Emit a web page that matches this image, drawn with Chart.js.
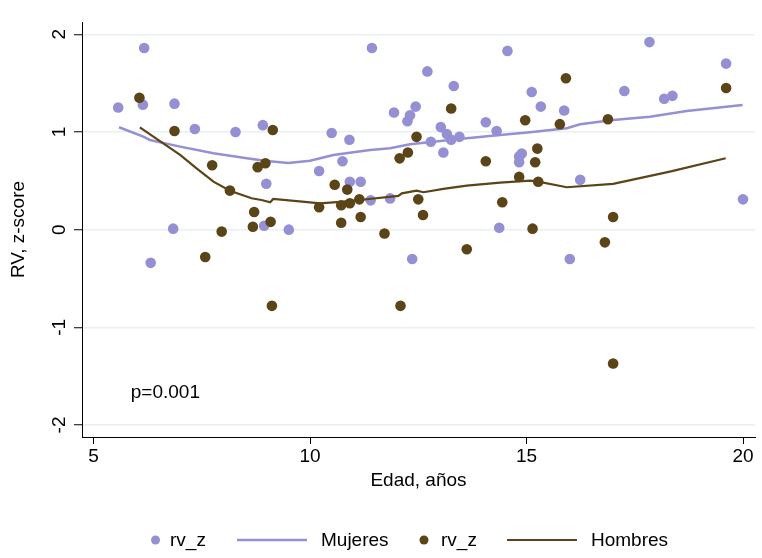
<!DOCTYPE html>
<html>
<head>
<meta charset="utf-8">
<script src="https://cdn.jsdelivr.net/npm/chart.js@4/dist/chart.umd.min.js"></script>
<style>
  html, body { margin: 0; padding: 0; background: #ffffff; }
  canvas { display: block; }
</style>
</head>
<body>
<canvas id="chart" width="762" height="558"></canvas>
<script>
// Girls: individual RV z-scores by age
const womenAge = [5.57, 6.17, 6.14, 6.87, 7.34, 8.28, 8.91, 8.99, 6.84, 8.94, 9.51, 6.32,
  11.43, 12.71, 13.32, 14.56, 15.12, 11.94, 12.44, 12.31, 12.25, 10.50, 10.91, 13.02,
  13.16, 13.26, 13.45, 12.79, 13.08, 14.06, 14.31, 14.89, 14.83, 14.83, 10.75, 10.21,
  10.92, 11.17, 11.40, 11.85, 14.37, 12.36, 17.84, 19.61, 17.26, 18.18, 18.37, 15.33,
  15.87, 16.24, 20.00, 16.00];
const womenRv = [1.25, 1.86, 1.28, 1.29, 1.03, 1.00, 1.07, 0.47, 0.01, 0.04, 0.00, -0.34,
  1.86, 1.62, 1.47, 1.83, 1.41, 1.20, 1.26, 1.17, 1.11, 0.99, 0.92, 1.05,
  0.98, 0.92, 0.95, 0.90, 0.79, 1.10, 1.01, 0.78, 0.75, 0.69, 0.70, 0.60,
  0.49, 0.49, 0.30, 0.32, 0.02, -0.30, 1.92, 1.70, 1.42, 1.34, 1.37, 1.26,
  1.22, 0.51, 0.31, -0.30];

// Boys: individual RV z-scores by age
const menAge = [6.06, 6.87, 9.14, 7.74, 8.79, 8.97, 8.15, 8.71, 8.68, 9.09, 7.96, 7.58,
  9.12, 13.26, 14.97, 12.46, 12.07, 12.26, 14.06, 14.83, 10.57, 10.86, 10.21, 10.72,
  10.92, 11.14, 11.17, 10.72, 12.50, 12.61, 14.44, 11.72, 15.14, 13.62, 12.09, 15.91,
  19.61, 15.77, 16.88, 15.25, 15.20, 15.27, 17.00, 16.81, 17.00];
const menRv = [1.35, 1.01, 1.02, 0.66, 0.64, 0.68, 0.40, 0.18, 0.03, 0.08, -0.02, -0.28,
  -0.78, 1.24, 1.12, 0.95, 0.73, 0.79, 0.70, 0.54, 0.46, 0.41, 0.23, 0.25,
  0.27, 0.31, 0.13, 0.07, 0.31, 0.15, 0.28, -0.04, 0.01, -0.20, -0.78, 1.55,
  1.45, 1.08, 1.13, 0.83, 0.69, 0.49, 0.13, -0.13, -1.37];

// Smoothed trend, girls
const womenFitAge = [5.59, 6.15, 6.30, 7.00, 7.77, 8.54, 9.00, 9.50, 10.00, 10.54, 10.92, 11.39,
  11.85, 12.31, 12.85, 13.62, 14.39, 15.08, 15.93, 16.24, 17.00, 17.85, 18.70, 19.99];
const womenFitRv = [1.048, 0.952, 0.918, 0.850, 0.782, 0.731, 0.703, 0.683, 0.705, 0.765, 0.788, 0.816,
  0.833, 0.874, 0.901, 0.935, 0.969, 0.997, 1.038, 1.079, 1.123, 1.157, 1.215, 1.276];

// Smoothed trend, boys
const menFitAge = [6.07, 6.61, 7.00, 7.38, 7.77, 8.15, 8.65, 8.88, 9.08, 9.15, 10.00, 10.23,
  10.77, 11.31, 12.04, 12.12, 12.46, 12.62, 13.08, 13.62, 14.39, 15.08, 15.27, 15.93,
  17.00, 18.31, 19.60];
const menFitRv = [1.048, 0.884, 0.765, 0.628, 0.491, 0.399, 0.321, 0.304, 0.280, 0.314, 0.280, 0.270,
  0.287, 0.311, 0.345, 0.372, 0.399, 0.383, 0.417, 0.451, 0.481, 0.502, 0.491, 0.434,
  0.468, 0.594, 0.731];

const xTicks = [5, 10, 15, 20];
const yTicks = [-2, -1, 0, 1, 2];
const seriesLabels = ['rv_z', 'Mujeres', 'rv_z', 'Hombres'];
const pValueText = 'p=0.001';

const PURPLE = '#958fd4';
const BROWN = '#5b4417';
const FONT = '"Liberation Sans", Arial, Helvetica, sans-serif';

const zip = (xs, ys) => xs.map((x, i) => ({ x: x, y: ys[i] }));

// White background behind everything
const background = {
  id: 'background',
  beforeDraw(chart) {
    const c = chart.ctx;
    c.save();
    c.fillStyle = '#ffffff';
    c.fillRect(0, 0, chart.width, chart.height);
    c.restore();
  }
};

// p-value note placed in data coordinates
const pNote = {
  id: 'pNote',
  afterDatasetsDraw(chart) {
    const c = chart.ctx;
    const x = chart.scales.x.getPixelForValue(5.86);
    const y = chart.scales.y.getPixelForValue(-1.67);
    c.save();
    c.font = '19px ' + FONT;
    c.fillStyle = '#000000';
    c.textAlign = 'left';
    c.textBaseline = 'middle';
    c.fillText(pValueText, x, y);
    c.restore();
  }
};

// Legend row: marker or line sample, then the series label
const bottomLegend = {
  id: 'bottomLegend',
  afterDraw(chart) {
    const c = chart.ctx;
    const ds = chart.data.datasets;
    const yMid = 541;
    const items = [
      { ds: 0, kind: 'dot', mark: 155.5, text: 170 },
      { ds: 1, kind: 'line', mark: [237, 307], text: 321 },
      { ds: 2, kind: 'dot', mark: 424, text: 441 },
      { ds: 3, kind: 'line', mark: [507, 577], text: 591 }
    ];
    c.save();
    c.font = '19px ' + FONT;
    c.textAlign = 'left';
    c.textBaseline = 'middle';
    items.forEach(it => {
      const d = ds[it.ds];
      if (it.kind === 'dot') {
        c.fillStyle = d.backgroundColor;
        c.beginPath();
        c.arc(it.mark, yMid - 1, 4.5, 0, Math.PI * 2);
        c.fill();
      } else {
        c.strokeStyle = d.borderColor;
        c.lineWidth = d.borderWidth;
        c.beginPath();
        c.moveTo(it.mark[0], yMid - 1);
        c.lineTo(it.mark[1], yMid - 1);
        c.stroke();
      }
      c.fillStyle = '#000000';
      c.fillText(d.label, it.text, yMid);
    });
    c.restore();
  }
};

new Chart(document.getElementById('chart'), {
  type: 'scatter',
  data: {
    datasets: [
      {
        label: seriesLabels[0],
        data: zip(womenAge, womenRv),
        backgroundColor: PURPLE,
        borderColor: PURPLE,
        pointRadius: 5.3,
        pointBorderWidth: 0,
        showLine: false,
        order: 4
      },
      {
        type: 'line',
        label: seriesLabels[1],
        data: zip(womenFitAge, womenFitRv),
        borderColor: PURPLE,
        backgroundColor: PURPLE,
        borderWidth: 2.5,
        pointRadius: 0,
        tension: 0,
        fill: false,
        order: 3
      },
      {
        label: seriesLabels[2],
        data: zip(menAge, menRv),
        backgroundColor: BROWN,
        borderColor: BROWN,
        pointRadius: 5.3,
        pointBorderWidth: 0,
        showLine: false,
        order: 2
      },
      {
        type: 'line',
        label: seriesLabels[3],
        data: zip(menFitAge, menFitRv),
        borderColor: BROWN,
        backgroundColor: BROWN,
        borderWidth: 2.2,
        pointRadius: 0,
        tension: 0,
        fill: false,
        order: 1
      }
    ]
  },
  options: {
    responsive: false,
    devicePixelRatio: 1,
    animation: false,
    layout: { padding: { top: 22, right: 7, bottom: 0, left: 0 } },
    plugins: {
      legend: { display: false },
      tooltip: { enabled: false }
    },
    scales: {
      x: {
        type: 'linear',
        min: 4.734,
        max: 20.277,
        afterBuildTicks: s => { s.ticks = xTicks.map(v => ({ value: v })); },
        afterFit: s => { s.height = 121; },
        border: { display: true, color: '#000000', width: 1 },
        grid: { drawOnChartArea: false, drawTicks: true, tickLength: 7, tickColor: '#000000', tickWidth: 1 },
        ticks: { color: '#000000', font: { family: FONT, size: 19 }, padding: 1, maxRotation: 0 },
        title: {
          display: true,
          text: 'Edad, años',
          color: '#000000',
          font: { family: FONT, size: 19 },
          padding: { top: 0, bottom: 66 }
        }
      },
      y: {
        type: 'linear',
        min: -2.123,
        max: 2.126,
        afterBuildTicks: s => { s.ticks = yTicks.map(v => ({ value: v })); },
        afterFit: s => { s.width = 82; },
        border: { display: true, color: '#000000', width: 1 },
        grid: {
          drawOnChartArea: true,
          color: '#e9f0f0',
          lineWidth: 1.5,
          drawTicks: true,
          tickLength: 8,
          tickColor: '#000000',
          tickWidth: 1
        },
        ticks: {
          color: '#000000',
          font: { family: FONT, size: 19 },
          minRotation: 90,
          maxRotation: 90,
          crossAlign: 'center',
          padding: 6
        },
        title: {
          display: true,
          text: 'RV, z-score',
          color: '#000000',
          font: { family: FONT, size: 19 },
          padding: { top: 7, bottom: 0 }
        }
      }
    }
  },
  plugins: [background, pNote, bottomLegend]
});
</script>
</body>
</html>
